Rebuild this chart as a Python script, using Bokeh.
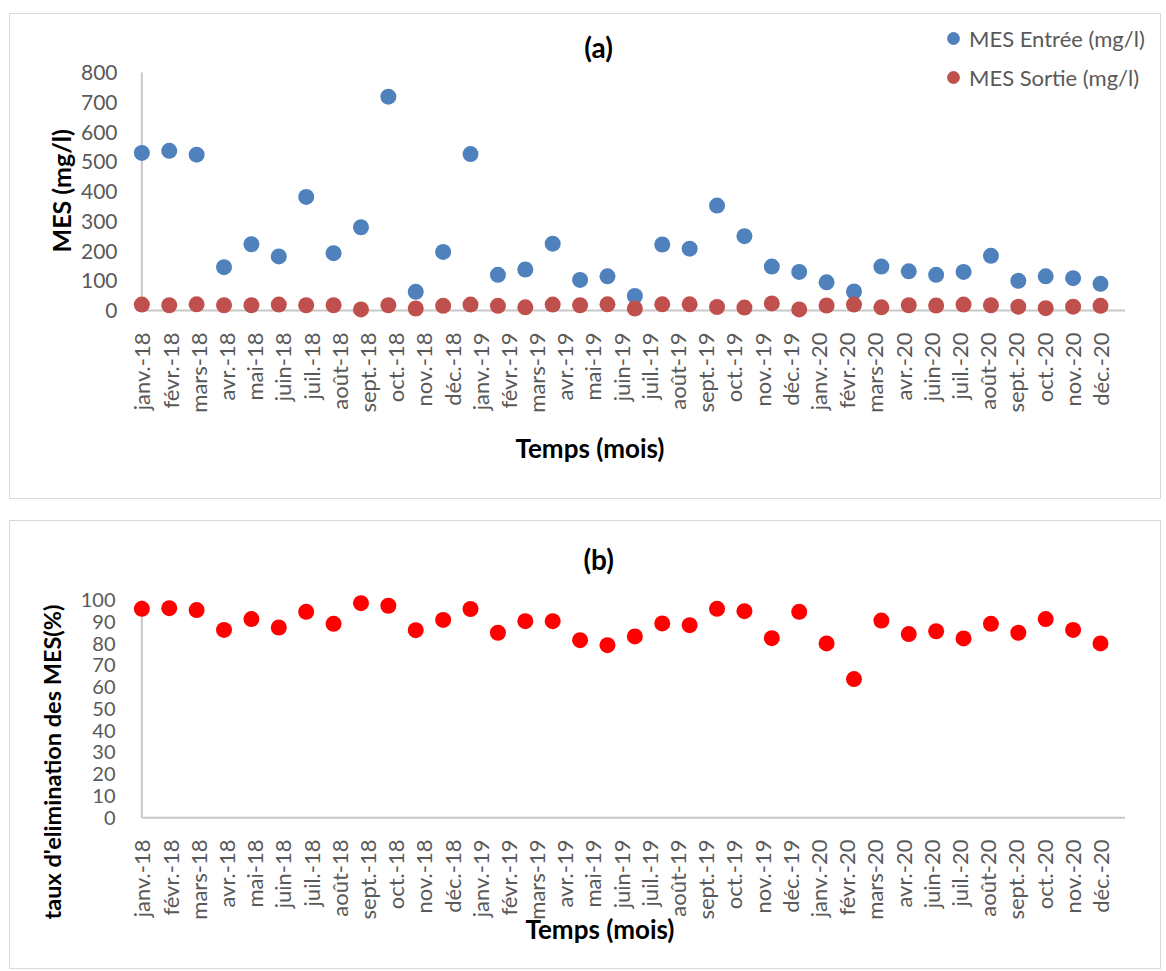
import numpy as np
from bokeh.plotting import figure
from bokeh.layouts import column
from bokeh.models import FixedTicker, Range1d, Label, Legend, LegendItem, ColumnDataSource, Title
from bokeh.embed import file_html
from bokeh.resources import INLINE

# ---------------- data ----------------
tick_labels = ["janv.-18", "févr.-18", "mars-18", "avr.-18", "mai-18", "juin-18", "juil.-18",
               "août-18", "sept.-18", "oct.-18", "nov.-18", "déc.-18",
               "janv.-19", "févr.-19", "mars-19", "avr.-19", "mai-19", "juin-19", "juil.-19",
               "août-19", "sept.-19", "oct.-19", "nov.-19", "déc.-19",
               "janv.-20", "févr.-20", "mars-20", "avr.-20", "juin-20", "juil.-20",
               "août-20", "sept.-20", "oct.-20", "nov.-20", "déc.-20"]

mes_entree = [530, 537, 524, 146, 223, 182, 382, 193, 280, 719, 63, 197,
              526, 120, 138, 225, 103, 115, 49, 222, 208, 353, 250, 148,
              130, 95, 64, 148, 132, 120, 130, 184, 100, 115, 109, 90]

mes_sortie = [20, 18, 21, 18, 18, 20, 18, 18, 4, 18, 7, 16,
              20, 16, 11, 20, 18, 21, 7, 21, 21, 12, 10, 24,
              4, 17, 20, 11, 18, 17, 20, 18, 13, 8, 13, 16]

taux_elimination = [96.0, 96.3, 95.4, 86.3, 91.3, 87.4, 94.6, 89.1, 98.6, 97.4, 86.2, 90.9,
                    95.9, 85.0, 90.3, 90.3, 81.6, 79.3, 83.3, 89.3, 88.5, 96.0, 94.9, 82.5,
                    94.6, 80.1, 63.7, 90.6, 84.4, 85.7, 82.4, 89.1, 85.0, 91.3, 86.3, 80.1]

n_pts = len(mes_entree)
n_lab = len(tick_labels)
# the points are evenly spread over the same span as the labels
x_pos = [i * (n_lab - 1) / (n_pts - 1) for i in range(n_pts)]
X_AXIS_END = 34.87
X_MAX = 35.88

src = ColumnDataSource(dict(x=x_pos, entree=mes_entree, sortie=mes_sortie, taux=taux_elimination))

FONT = "Lato"
GREY = "#595959"
AXIS = "#C8C8C8"


def style(p, yticks, ysize, ystandoff):
    p.xgrid.visible = False
    p.ygrid.visible = False
    p.outline_line_color = None
    p.background_fill_color = "white"
    p.border_fill_color = "white"
    p.xaxis.ticker = FixedTicker(ticks=list(range(n_lab)))
    p.xaxis.major_label_overrides = {i: lab for i, lab in enumerate(tick_labels)}
    p.xaxis.major_label_orientation = np.pi / 2
    p.yaxis.ticker = FixedTicker(ticks=yticks)
    for ax in (p.xaxis, p.yaxis):
        ax.axis_line_color = None
        ax.major_tick_line_color = None
        ax.minor_tick_line_color = None
        ax.major_label_text_font = FONT
        ax.major_label_text_color = GREY
    p.xaxis.major_label_text_font_size = "22px"
    p.yaxis.major_label_text_font_size = ysize
    p.xaxis.major_label_standoff = 7
    p.yaxis.major_label_standoff = ystandoff


def add_title(p, text, side, offset, standoff, size):
    p.add_layout(Title(text=text, align="left", offset=offset, standoff=standoff,
                       text_font=FONT, text_font_style="bold", text_font_size=size,
                       text_color="black"), side)


def add_label(p, x, y, text):
    p.add_layout(Label(x=x, y=y, text=text, text_font=FONT, text_font_style="bold",
                       text_font_size="28px", text_color="black", text_align="center",
                       text_baseline="middle"))


# ---------------- panel (a) ----------------
p1 = figure(width=1152, height=486, x_range=Range1d(-0.58, X_MAX), y_range=Range1d(-30, 985),
            output_backend="svg", toolbar_location=None,
            min_border_left=115, min_border_right=9, min_border_top=3, min_border_bottom=181,
            margin=(13, 0, 10, 9), styles={"border": "1px solid #D9D9D9"})
style(p1, list(range(0, 801, 100)), "21px", 2)
p1.segment(x0=[0], y0=[0], x1=[0], y1=[800], line_color=AXIS, line_width=2)
p1.segment(x0=[0], y0=[0], x1=[X_AXIS_END], y1=[0], line_color=AXIS, line_width=2)
r_in = p1.scatter("x", "entree", source=src, size=16, fill_color="#4F81BD", line_color=None)
r_out = p1.scatter("x", "sortie", source=src, size=16, fill_color="#C0504D", line_color=None)

legend = Legend(items=[LegendItem(label="MES Entrée (mg/l)", renderers=[r_in]),
                       LegendItem(label="MES Sortie (mg/l)", renderers=[r_out])],
                location=(812, 226), orientation="vertical",
                glyph_width=32, glyph_height=32, label_height=32, spacing=7,
                padding=0, margin=0, label_standoff=0,
                label_text_font=FONT, label_text_font_size="22px", label_text_color=GREY,
                border_line_color=None, background_fill_alpha=0)
p1.add_layout(legend, "center")

add_label(p1, 16.2, 885, "(a)")
add_title(p1, "MES (mg/l)", "left", 67, 4, "25px")
add_title(p1, "Temps (mois)", "below", 390, 29, "26px")

# ---------------- panel (b) ----------------
p2 = figure(width=1152, height=449, x_range=Range1d(-0.58, X_MAX), y_range=Range1d(-4, 126),
            output_backend="svg", toolbar_location=None,
            min_border_left=115, min_border_right=9, min_border_top=22, min_border_bottom=144,
            margin=(11, 0, 0, 9), styles={"border": "1px solid #D9D9D9"})
style(p2, list(range(0, 101, 10)), "20px", 4)
p2.segment(x0=[0], y0=[0], x1=[0], y1=[100], line_color=AXIS, line_width=2)
p2.segment(x0=[0], y0=[0], x1=[X_AXIS_END], y1=[0], line_color=AXIS, line_width=2)
p2.scatter("x", "taux", source=src, size=16, fill_color="#FF0000", line_color=None)

add_label(p2, 16.2, 118.8, "(b)")
add_title(p2, "taux d'elimination  des MES(%)", "left", -93, 24, "23.5px")
add_title(p2, "Temps (mois)", "below", 400, -23, "26px")

layout = column(p1, p2, spacing=0)
open("out.html", "w").write(file_html(layout, INLINE))
